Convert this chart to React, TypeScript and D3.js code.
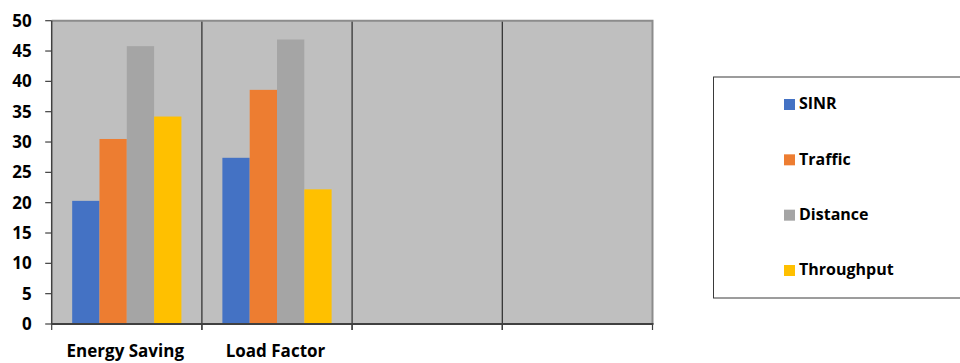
import React, { useEffect, useRef } from "react";
import * as d3 from "d3";

const categories = ["Energy Saving", "Load Factor", "", " "];
const seriesNames = ["SINR", "Traffic", "Distance", "Throughput"];
const seriesColors = ["#4472C4", "#ED7D31", "#A5A5A5", "#FFC000"];
const sinr = [20.3, 27.4];
const traffic = [30.5, 38.6];
const distance = [45.8, 46.9];
const throughput = [34.2, 22.2];
const yTicks = [0, 5, 10, 15, 20, 25, 30, 35, 40, 45, 50];

const W = 960;
const H = 363;
const FONT = "'Open Sans', Lato, sans-serif";

export default function App() {
  const ref = useRef<SVGSVGElement>(null);

  useEffect(() => {
    const svg = d3.select(ref.current);
    svg.selectAll("*").remove();

    const left = 51.7;
    const right = 652.5;
    const top = 20.7;
    const bottom = 324;

    const x = d3.scaleBand<string>().domain(categories).range([left, right]).paddingInner(0).paddingOuter(0);
    const y = d3.scaleLinear().domain([0, 50]).range([bottom, top]);
    const inner = d3
      .scaleBand<string>()
      .domain(seriesNames)
      .range([0, x.bandwidth()])
      .paddingOuter(0.75)
      .paddingInner(0);

    const values = [sinr, traffic, distance, throughput];

    // plot background
    svg
      .append("rect")
      .attr("x", left)
      .attr("y", top)
      .attr("width", right - left)
      .attr("height", bottom - top)
      .attr("fill", "#BFBFBF");

    // category separators
    categories.slice(1).forEach((c) => {
      const xv = x(c)!;
      svg
        .append("line")
        .attr("x1", xv)
        .attr("x2", xv)
        .attr("y1", top)
        .attr("y2", bottom + 6)
        .attr("stroke", "#2a2a2a")
        .attr("stroke-width", 1.2);
    });

    // bars
    seriesNames.forEach((s, si) => {
      values[si].forEach((v, ci) => {
        const cat = categories[ci];
        svg
          .append("rect")
          .attr("x", x(cat)! + inner(s)!)
          .attr("y", y(v))
          .attr("width", inner.bandwidth())
          .attr("height", bottom - y(v))
          .attr("fill", seriesColors[si]);
      });
    });

    // top and right border
    svg
      .append("path")
      .attr("d", `M${left},${top}H${right}V${bottom}`)
      .attr("fill", "none")
      .attr("stroke", "#8C8C8C")
      .attr("stroke-width", 2);

    // y axis
    const yAxis = svg.append("g").attr("transform", `translate(${left},0)`);
    yAxis
      .append("line")
      .attr("x1", 0)
      .attr("x2", 0)
      .attr("y1", top)
      .attr("y2", bottom)
      .attr("stroke", "#404040")
      .attr("stroke-width", 1.5);
    yTicks.forEach((t) => {
      yAxis
        .append("line")
        .attr("x1", -6.5)
        .attr("x2", 0)
        .attr("y1", y(t))
        .attr("y2", y(t))
        .attr("stroke", "#404040")
        .attr("stroke-width", 1.2);
      yAxis
        .append("text")
        .attr("x", -20)
        .attr("y", y(t))
        .attr("dy", "0.36em")
        .attr("text-anchor", "end")
        .attr("font-family", FONT)
        .attr("font-weight", 700)
        .attr("font-size", 17)
        .attr("fill", "#000")
        .text(String(t));
    });

    // x axis
    svg
      .append("line")
      .attr("x1", left)
      .attr("x2", right + 1)
      .attr("y1", bottom)
      .attr("y2", bottom)
      .attr("stroke", "#404040")
      .attr("stroke-width", 1.8);
    [left, ...categories.slice(1).map((c) => x(c)!), right].forEach((xv) => {
      svg
        .append("line")
        .attr("x1", xv)
        .attr("x2", xv)
        .attr("y1", bottom)
        .attr("y2", bottom + 6)
        .attr("stroke", "#404040")
        .attr("stroke-width", 1.2);
    });
    categories.forEach((c) => {
      if (!c.trim()) return;
      svg
        .append("text")
        .attr("x", x(c)! + x.bandwidth() / 2 - 1.5)
        .attr("y", 357)
        .attr("text-anchor", "middle")
        .attr("font-family", FONT)
        .attr("font-weight", 700)
        .attr("font-size", 17)
        .attr("fill", "#000")
        .text(c);
    });

    // legend
    svg
      .append("rect")
      .attr("x", 713.5)
      .attr("y", 77)
      .attr("width", 300)
      .attr("height", 221)
      .attr("fill", "#fff")
      .attr("stroke", "#3a3a3a")
      .attr("stroke-width", 1);
    const ly = d3.scalePoint<string>().domain(seriesNames).range([103.5, 269.5]);
    seriesNames.forEach((s, i) => {
      svg
        .append("rect")
        .attr("x", 784)
        .attr("y", ly(s)! - 4.5)
        .attr("width", 11)
        .attr("height", 11)
        .attr("fill", seriesColors[i]);
      svg
        .append("text")
        .attr("x", 799)
        .attr("y", ly(s)!)
        .attr("dy", "0.36em")
        .attr("font-family", FONT)
        .attr("font-weight", 700)
        .attr("font-size", 16)
        .attr("fill", "#000")
        .text(s);
    });
  }, []);

  return (
    <svg
      ref={ref}
      width={W}
      height={H}
      style={{ position: "absolute", left: 0, top: 0, background: "#fff" }}
    />
  );
}
